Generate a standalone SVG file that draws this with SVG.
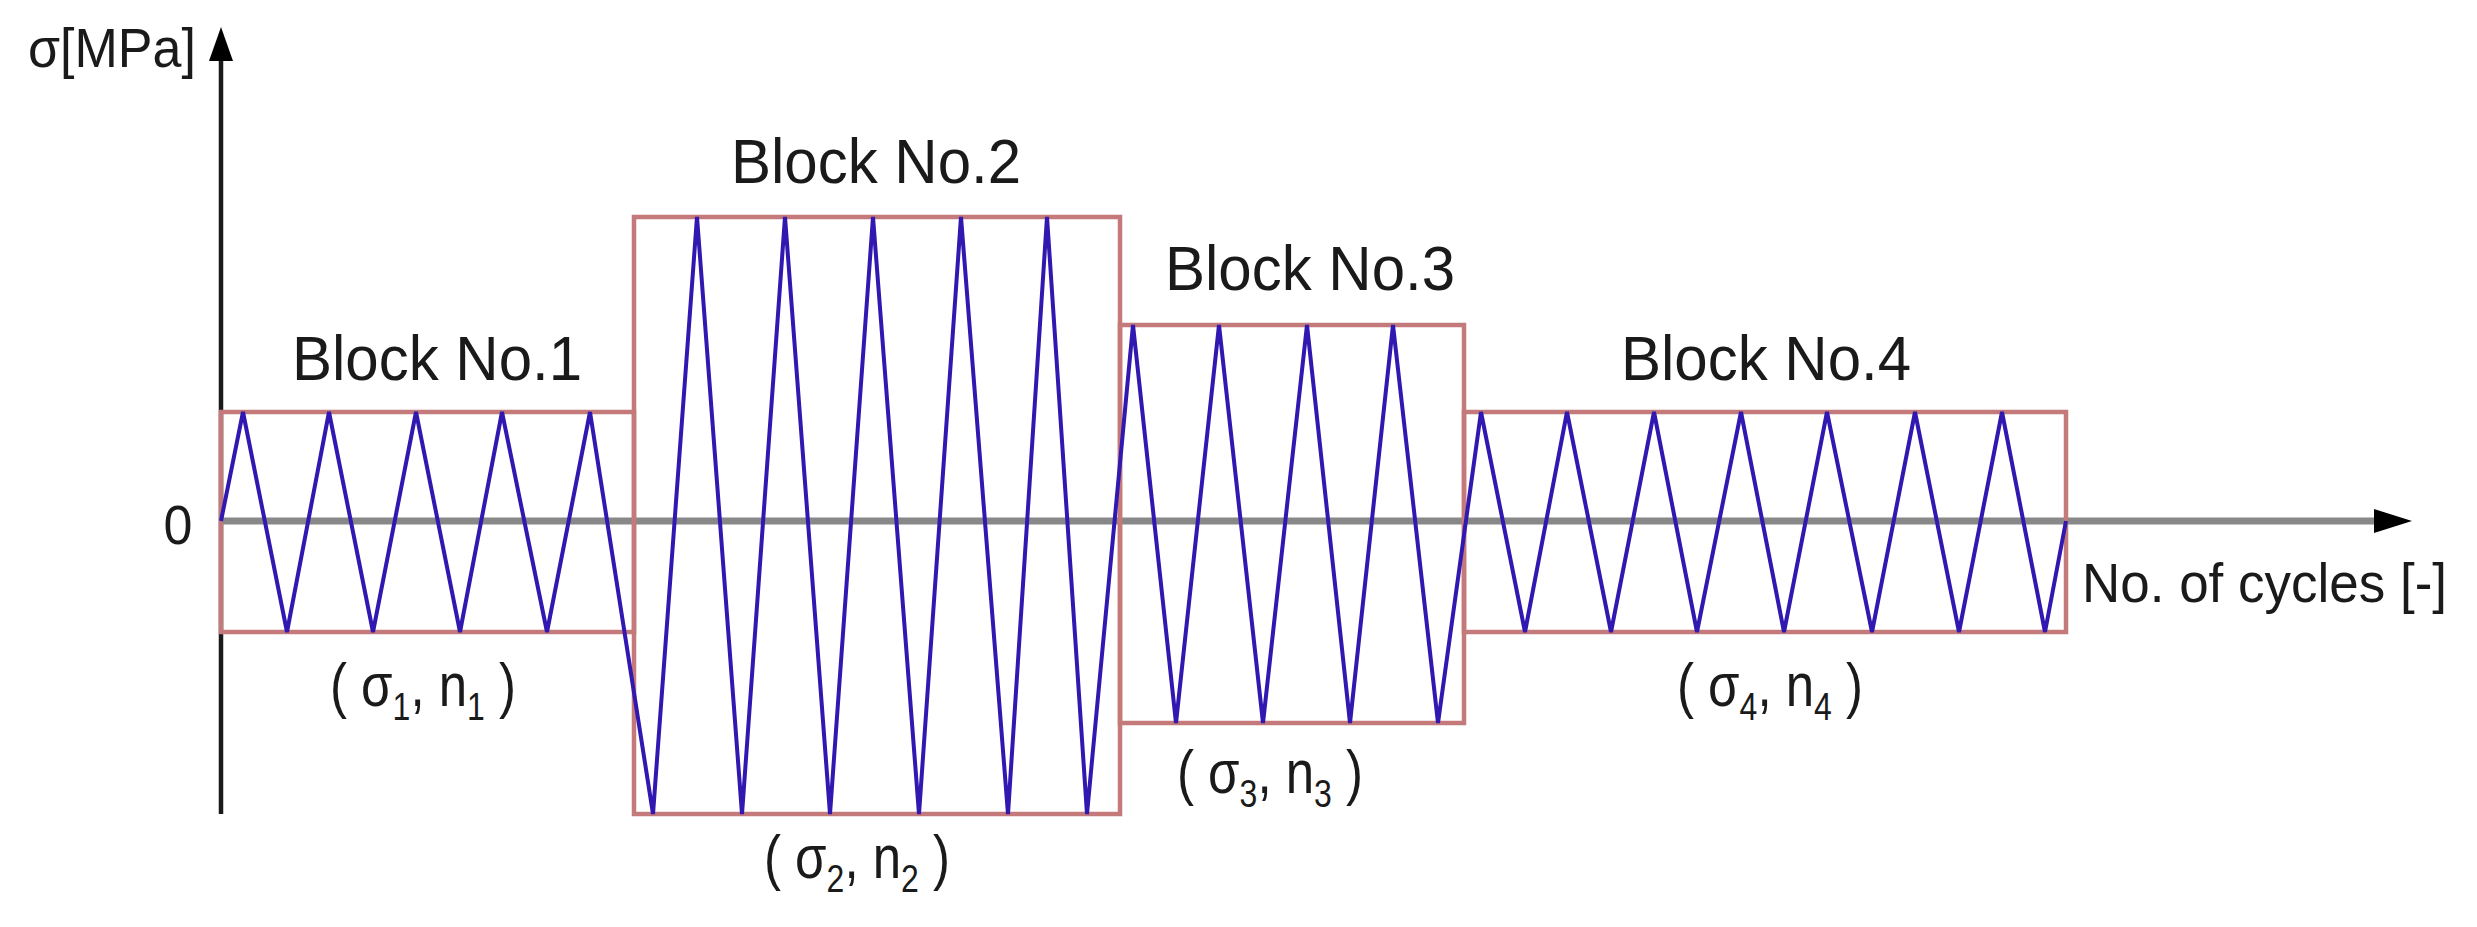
<svg xmlns="http://www.w3.org/2000/svg" width="2477" height="927" viewBox="0 0 2477 927">
<style>
.lbl{font-family:"Liberation Sans",Arial,sans-serif;fill:#1a1a1a}
.blk{font-size:60px;text-anchor:middle}
.par{font-size:51px;text-anchor:middle}
.ax{font-size:52px}
.box{fill:none;stroke:#c47a7a;stroke-width:4.5}
.wave{fill:none;stroke:#3018b0;stroke-width:4;stroke-linejoin:miter}
</style>
<rect x="0" y="0" width="2477" height="927" fill="#ffffff"/>
<g id="axes">
<line x1="221" y1="814" x2="221" y2="58" stroke="#1a1a1a" stroke-width="4.5"/>
<polygon points="221,27 209,61 233,61" fill="#000"/>
<line x1="221" y1="521" x2="2380" y2="521" stroke="#888888" stroke-width="7"/>
<polygon points="2412,521 2374,509 2374,533" fill="#000"/>
<text class="lbl ax" transform="translate(28,67) scale(1,1.05)">σ[MPa]</text>
<text class="lbl ax" transform="translate(178,544) scale(1,1.05)" text-anchor="middle">0</text>
<text class="lbl" font-size="50" textLength="365" lengthAdjust="spacingAndGlyphs" transform="translate(2082,602) scale(1,1.1)">No. of cycles [-]</text>
</g>
<g id="block1">
<rect class="box" x="221" y="412" width="413" height="220"/>
<text class="lbl blk" transform="translate(437,380) scale(1,1.05)">Block No.1</text>
<text class="lbl par" transform="translate(423,706) scale(1,1.2)" xml:space="preserve">( σ<tspan dy="12" font-size="32">1</tspan><tspan dy="-12">, n</tspan><tspan dy="12" font-size="32">1</tspan><tspan dy="-12"> )</tspan></text>
</g>
<g id="block2">
<rect class="box" x="634" y="217" width="486" height="597"/>
<text class="lbl blk" transform="translate(876,183) scale(1,1.05)">Block No.2</text>
<text class="lbl par" transform="translate(857,878) scale(1,1.2)" xml:space="preserve">( σ<tspan dy="12" font-size="32">2</tspan><tspan dy="-12">, n</tspan><tspan dy="12" font-size="32">2</tspan><tspan dy="-12"> )</tspan></text>
</g>
<g id="block3">
<rect class="box" x="1120" y="325" width="344" height="398"/>
<text class="lbl blk" transform="translate(1310,290) scale(1,1.05)">Block No.3</text>
<text class="lbl par" transform="translate(1270,793) scale(1,1.2)" xml:space="preserve">( σ<tspan dy="12" font-size="32">3</tspan><tspan dy="-12">, n</tspan><tspan dy="12" font-size="32">3</tspan><tspan dy="-12"> )</tspan></text>
</g>
<g id="block4">
<rect class="box" x="1464" y="412" width="602" height="220"/>
<text class="lbl blk" transform="translate(1766,380) scale(1,1.05)">Block No.4</text>
<text class="lbl par" transform="translate(1770,706) scale(1,1.2)" xml:space="preserve">( σ<tspan dy="12" font-size="32">4</tspan><tspan dy="-12">, n</tspan><tspan dy="12" font-size="32">4</tspan><tspan dy="-12"> )</tspan></text>
</g>
<g id="waveform">
<polyline class="wave" points="221,521 243,412 287,632 329,412 373,632 416,412 460,632 502,412 547,632 590,412 653,814 697,217 742,814 785,217 830,814 873,217 919,814 961,217 1008,814 1047,217 1087,814 1133,325 1176,723 1219,325 1263,723 1307,325 1350,723 1393,325 1438,723 1481,412 1525,632 1567,412 1611,632 1654,412 1697,632 1741,412 1784,632 1827,412 1872,632 1915,412 1959,632 2002,412 2045,632 2066,521"/>
</g>
</svg>
